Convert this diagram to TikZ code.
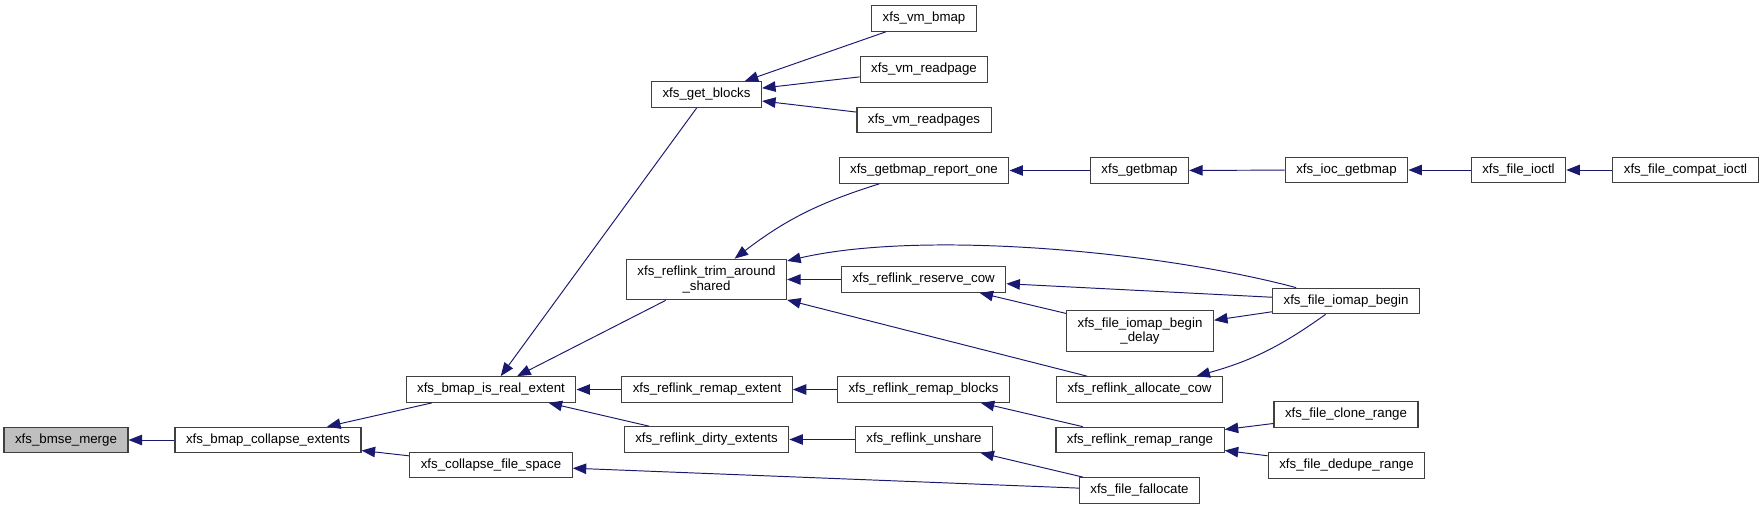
\documentclass[tikz,border=0pt]{standalone}
\usepackage{fontspec}
\setmainfont{Liberation Sans}
\usetikzlibrary{arrows.meta}

\definecolor{edgeblue}{HTML}{191970}
\definecolor{boxline}{HTML}{404040}
\definecolor{rootfill}{HTML}{BFBFBF}

\tikzset{
  fn/.style={draw=boxline, line width=0.7pt, inner xsep=0.22cm, inner ysep=0pt,
    minimum height=0.51cm, font=\fontsize{7.56}{8.15}\selectfont},
  fntwo/.style={fn, align=center, minimum height=0.81cm},
  call/.style={draw=edgeblue, line width=0.55pt},
  >={Triangle[length=0.27cm, width=0.21cm]}
}

\begin{document}
\begin{tikzpicture}
  \useasboundingbox (0,0) rectangle (35.28,10.18);

  % Root function
  \node[fn, fill=rootfill] (bmsemerge) at (1.32,1.38) {xfs\_bmse\_merge};

  % First callers
  \node[fn] (collapseext) at (5.36,1.38) {xfs\_bmap\_collapse\_extents};
  \node[fn] (isreal) at (9.82,2.39) {xfs\_bmap\_is\_real\_extent};
  \node[fn] (collapsespace) at (9.82,0.88) {xfs\_collapse\_file\_space};

  % Column of reflink helpers
  \node[fn] (getblocks) at (14.13,8.29) {xfs\_get\_blocks};
  \node[fntwo] (trim) at (14.13,4.59) {xfs\_reflink\_trim\_around\\\_shared};
  \node[fn] (remapext) at (14.14,2.39) {xfs\_reflink\_remap\_extent};
  \node[fn] (dirtyext) at (14.13,1.39) {xfs\_reflink\_dirty\_extents};

  % Next column
  \node[fn] (vmbmap) at (18.48,9.81) {xfs\_vm\_bmap};
  \node[fn] (vmreadpage) at (18.48,8.79) {xfs\_vm\_readpage};
  \node[fn] (vmreadpages) at (18.48,7.78) {xfs\_vm\_readpages};
  \node[fn] (reportone) at (18.48,6.77) {xfs\_getbmap\_report\_one};
  \node[fn] (reservecow) at (18.47,4.59) {xfs\_reflink\_reserve\_cow};
  \node[fn] (remapblocks) at (18.47,2.39) {xfs\_reflink\_remap\_blocks};
  \node[fn] (unshare) at (18.48,1.39) {xfs\_reflink\_unshare};

  % Next column
  \node[fn] (getbmap) at (22.79,6.77) {xfs\_getbmap};
  \node[fntwo] (iomapdelay) at (22.80,3.56) {xfs\_file\_iomap\_begin\\\_delay};
  \node[fn] (alloccow) at (22.79,2.39) {xfs\_reflink\_allocate\_cow};
  \node[fn] (remaprange) at (22.80,1.38) {xfs\_reflink\_remap\_range};
  \node[fn] (fallocate) at (22.79,0.37) {xfs\_file\_fallocate};

  % Outer callers
  \node[fn] (iocgetbmap) at (26.93,6.78) {xfs\_ioc\_getbmap};
  \node[fn] (iomapbegin) at (26.92,4.16) {xfs\_file\_iomap\_begin};
  \node[fn] (clonerange) at (26.92,1.89) {xfs\_file\_clone\_range};
  \node[fn] (deduperange) at (26.93,0.87) {xfs\_file\_dedupe\_range};
  \node[fn] (fileioctl) at (30.37,6.78) {xfs\_file\_ioctl};
  \node[fn] (compatioctl) at (33.71,6.78) {xfs\_file\_compat\_ioctl};

  % Calls
  \draw[call, <-] (bmsemerge) -- (collapseext);
  \draw[call, <-] (collapseext) -- (isreal);
  \draw[call, <-] (collapseext) -- (collapsespace);
  \draw[call, <-] (isreal) -- (getblocks);
  \draw[call, <-] (isreal) -- (trim);
  \draw[call, <-] (isreal) -- (remapext);
  \draw[call, <-] (isreal) -- (dirtyext);
  \draw[call, <-] (collapsespace) -- (fallocate);

  \draw[call, <-] (getblocks) -- (vmbmap);
  \draw[call, <-] (getblocks) -- (vmreadpage);
  \draw[call, <-] (getblocks) -- (vmreadpages);
  \draw[call, <-] (trim) to[bend left=10] (reportone);
  \draw[call, <-] (trim) -- (reservecow);
  \draw[call, <-] (trim) -- (alloccow);
  \draw[call, <-] (trim) to[out=13, in=165, looseness=0.7] (iomapbegin);
  \draw[call, <-] (remapext) -- (remapblocks);
  \draw[call, <-] (dirtyext) -- (unshare);

  \draw[call, <-] (reportone) -- (getbmap);
  \draw[call, <-] (reservecow) -- (iomapbegin);
  \draw[call, <-] (reservecow) -- (iomapdelay);
  \draw[call, <-] (remapblocks) -- (remaprange);
  \draw[call, <-] (unshare) -- (fallocate);

  \draw[call, <-] (getbmap) -- (iocgetbmap);
  \draw[call, <-] (iomapdelay) -- (iomapbegin);
  \draw[call, <-] (alloccow) to[bend right=10] (iomapbegin);
  \draw[call, <-] (remaprange) -- (clonerange);
  \draw[call, <-] (remaprange) -- (deduperange);

  \draw[call, <-] (iocgetbmap) -- (fileioctl);
  \draw[call, <-] (fileioctl) -- (compatioctl);

\end{tikzpicture}
\end{document}
